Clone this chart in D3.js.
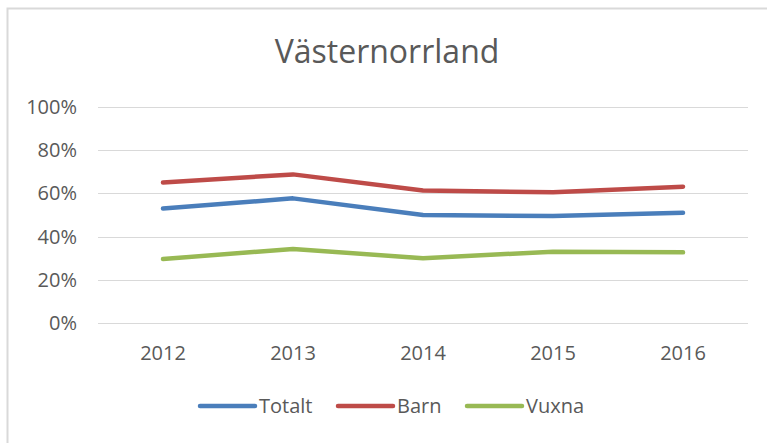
<!DOCTYPE html>
<html lang="sv">
<head>
    <meta charset="UTF-8">
    <title>Västernorrland</title>
    <script src="https://d3js.org/d3.v7.min.js"></script>
    <style>
        body {
            margin: 0;
            padding: 0;
            background: #fff;
            font-family: "Open Sans", sans-serif;
        }
        svg { display: block; }
        .grid line { stroke: #d9d9d9; stroke-width: 1; }
        .tick-label { fill: #595959; font-size: 20px; }
        .title { fill: #595959; font-size: 32px; }
        .legend-label { fill: #595959; font-size: 20px; }
    </style>
</head>
<body>
<svg width="767" height="443"></svg>
<script>
    // chart data
    const years = ["2012", "2013", "2014", "2015", "2016"];
    const totalt = [0.53, 0.577, 0.50, 0.495, 0.51];
    const barn = [0.65, 0.688, 0.613, 0.605, 0.631];
    const vuxna = [0.296, 0.343, 0.30, 0.33, 0.327];
    const yTicks = [0, 0.2, 0.4, 0.6, 0.8, 1.0];

    const series = [
        { name: "Totalt", values: totalt, color: "#4a7ebb" },
        { name: "Barn", values: barn, color: "#be4b48" },
        { name: "Vuxna", values: vuxna, color: "#98b954" }
    ];

    const svg = d3.select("svg");

    // outer chart border
    svg.append("rect")
        .attr("x", 7.5).attr("y", 8.5)
        .attr("width", 780).attr("height", 460)
        .attr("fill", "#fff")
        .attr("stroke", "#d9d9d9")
        .attr("stroke-width", 2);

    const plot = { left: 98, right: 748, top: 107, bottom: 323 };

    const x = d3.scaleBand().domain(years).range([plot.left, plot.right]);
    const y = d3.scaleLinear().domain([0, 1]).range([plot.bottom, plot.top]);

    // title
    svg.append("text")
        .attr("class", "title")
        .attr("x", 387)
        .attr("y", 63)
        .attr("text-anchor", "middle")
        .text("Västernorrland");

    // gridlines
    svg.append("g").attr("class", "grid")
        .selectAll("line")
        .data(yTicks)
        .enter().append("line")
        .attr("x1", plot.left).attr("x2", plot.right)
        .attr("y1", d => Math.round(y(d)) + 0.5)
        .attr("y2", d => Math.round(y(d)) + 0.5);

    // y labels
    const pct = d3.format(".0%");
    svg.append("g")
        .selectAll("text")
        .data(yTicks)
        .enter().append("text")
        .attr("class", "tick-label")
        .attr("x", 77)
        .attr("y", d => y(d))
        .attr("dy", "0.35em")
        .attr("text-anchor", "end")
        .text(d => pct(d));

    // x labels
    svg.append("g")
        .selectAll("text")
        .data(years)
        .enter().append("text")
        .attr("class", "tick-label")
        .attr("x", d => x(d) + x.bandwidth() / 2)
        .attr("y", 360)
        .attr("text-anchor", "middle")
        .text(d => d);

    // lines
    const line = d3.line()
        .x((d, i) => x(years[i]) + x.bandwidth() / 2)
        .y(d => y(d));

    svg.append("g")
        .selectAll("path")
        .data(series)
        .enter().append("path")
        .attr("d", d => line(d.values))
        .attr("fill", "none")
        .attr("stroke", d => d.color)
        .attr("stroke-width", 4.5)
        .attr("stroke-linejoin", "round")
        .attr("stroke-linecap", "round");

    // legend
    const legendX = [200, 338, 467];
    const legend = svg.append("g")
        .selectAll("g")
        .data(series)
        .enter().append("g")
        .attr("transform", (d, i) => `translate(${legendX[i]},406)`);

    legend.append("line")
        .attr("x1", 0).attr("x2", 55)
        .attr("stroke", d => d.color)
        .attr("stroke-width", 4.5)
        .attr("stroke-linecap", "round");

    legend.append("text")
        .attr("class", "legend-label")
        .attr("x", 59)
        .attr("dy", "0.35em")
        .text(d => d.name);
</script>
</body>
</html>
